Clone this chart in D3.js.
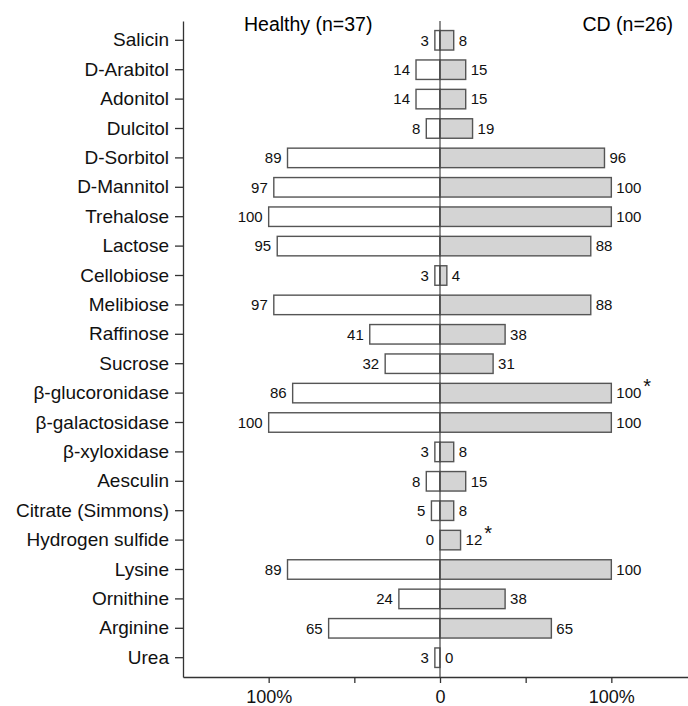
<!DOCTYPE html>
<html>
<head>
<meta charset="utf-8">
<script src="https://cdn.jsdelivr.net/npm/d3@7"></script>
<style>
	body { margin: 0; background: #fff; }
	svg { display: block; font-family: 'Liberation Sans', Arial, sans-serif; }
	.axis path, .axis line { stroke: #333; stroke-width: 1.3; }
	.axis text { fill: #111; }
	.value { font-size: 15px; fill: #111; }
</style>
</head>
<body>
<div class="vis"></div>
<script>
const categories = ['Salicin', 'D-Arabitol', 'Adonitol', 'Dulcitol', 'D-Sorbitol', 'D-Mannitol',
	'Trehalose', 'Lactose', 'Cellobiose', 'Melibiose', 'Raffinose', 'Sucrose',
	'β-glucoronidase', 'β-galactosidase', 'β-xyloxidase', 'Aesculin', 'Citrate (Simmons)',
	'Hydrogen sulfide', 'Lysine', 'Ornithine', 'Arginine', 'Urea']
const healthy = [3, 14, 14, 8, 89, 97, 100, 95, 3, 97, 41, 32, 86, 100, 3, 8, 5, 0, 89, 24, 65, 3]
const cd = [8, 15, 15, 19, 96, 100, 100, 88, 4, 88, 38, 31, 100, 100, 8, 15, 8, 12, 100, 38, 65, 0]
// significant differences
const starred = ['β-glucoronidase', 'Hydrogen sulfide']
const xTicks = [-100, -50, 0, 50, 100]
const groupTitles = ['Healthy (n=37)', 'CD (n=26)']

const W = 688
const H = 706

const svg = d3.select('.vis').append('svg')
	.attr('width', W)
	.attr('height', H)

const scale = {}
scale.x = d3.scaleLinear().domain([-150, 150]).range([183, 697])
scale.y = d3.scaleBand().domain(categories).range([21, 677])
	.paddingInner(0.337).paddingOuter(0.325)

const rows = categories.map((name, i) => ({ name, healthy: healthy[i], cd: cd[i] }))

// axes
svg.append('g')
	.attr('class', 'axis')
	.attr('transform', `translate(${scale.x(-150)},0)`)
	.call(d3.axisLeft(scale.y).tickSize(8).tickPadding(6).tickSizeOuter(0))
	.call(g => g.selectAll('text').style('font-size', '19px'))

svg.append('g')
	.attr('class', 'axis')
	.attr('transform', `translate(0,${scale.y.range()[1]})`)
	.call(d3.axisBottom(scale.x).tickValues(xTicks).tickSize(6).tickPadding(7).tickSizeOuter(0)
		.tickFormat(d => d === 0 ? '0' : (Math.abs(d) === 100 ? '100%' : '')))
	.call(g => g.selectAll('text').style('font-size', '18px'))

const bw = scale.y.bandwidth()

const row = svg.selectAll('.row').data(rows)
	.enter().append('g')
	.attr('class', 'row')
	.attr('transform', d => `translate(0,${scale.y(d.name)})`)

row.filter(d => d.healthy > 0).append('rect')
	.attr('x', d => scale.x(-d.healthy))
	.attr('y', 0)
	.attr('width', d => scale.x(0) - scale.x(-d.healthy))
	.attr('height', bw)
	.attr('fill', '#fff')
	.attr('stroke', '#555')
	.attr('stroke-width', 1.4)

row.filter(d => d.cd > 0).append('rect')
	.attr('x', scale.x(0))
	.attr('y', 0)
	.attr('width', d => scale.x(d.cd) - scale.x(0))
	.attr('height', bw)
	.attr('fill', '#d4d4d4')
	.attr('stroke', '#555')
	.attr('stroke-width', 1.4)

row.append('text')
	.attr('class', 'value')
	.attr('x', d => scale.x(-d.healthy) - 6)
	.attr('y', bw / 2)
	.attr('dy', '0.36em')
	.attr('text-anchor', 'end')
	.text(d => d.healthy)

row.append('text')
	.attr('class', 'value')
	.attr('x', d => scale.x(d.cd) + 5)
	.attr('y', bw / 2)
	.attr('dy', '0.36em')
	.html(d => starred.includes(d.name)
		? `${d.cd}<tspan dx="2" dy="-0.3em" font-size="20">*</tspan>`
		: d.cd)

// center line
svg.append('line')
	.attr('x1', scale.x(0)).attr('x2', scale.x(0))
	.attr('y1', scale.y.range()[0]).attr('y2', scale.y.range()[1])
	.attr('stroke', '#444')
	.attr('stroke-width', 1.2)

// group titles
svg.append('text')
	.attr('x', 244).attr('y', 31)
	.style('font-size', '19.5px')
	.text(groupTitles[0])

svg.append('text')
	.attr('x', 673).attr('y', 31)
	.attr('text-anchor', 'end')
	.style('font-size', '19.5px')
	.text(groupTitles[1])
</script>
</body>
</html>
